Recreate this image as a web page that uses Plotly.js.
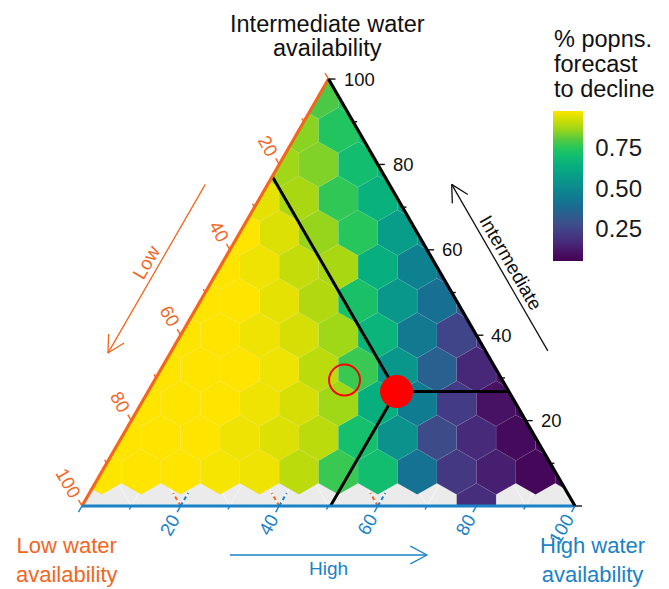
<!DOCTYPE html>
<html><head><meta charset="utf-8">
<script src="https://cdn.plot.ly/plotly-3.0.1.min.js"></script>
<style>html,body{margin:0;padding:0;background:#fff}#chart{width:669px;height:589px}</style>
</head><body><div id="chart"></div>
<script>
// ---------------- DATA ----------------
// Hexagonal bins: one list per row of constant "Intermediate" share,
// bins step 8 along "High", starting at the High value given in firstHighInRow.
const intermediateLevels = [0, 8, 16, 24, 32, 40, 48, 56, 64, 72, 80, 88, 96];
const firstHighInRow     = [80, 0, 0, 0, 0, 0, 0, 0, 0, 0, 0, 0, 0];
const highStep = 8;
// proportion of populations forecast to decline, per bin (left -> right)
const row0  = [0.18];
const row1  = [0.98, 0.98, 0.98, 0.97, 0.96, 0.90, 0.77, 0.70, 0.41, 0.21, 0.14, 0.07, 0.06];
const row2  = [0.98, 0.98, 0.98, 0.96, 0.94, 0.90, 0.71, 0.53, 0.27, 0.17, 0.08, 0.07];
const row3  = [0.98, 0.98, 0.98, 0.96, 0.93, 0.87, 0.64, 0.45, 0.22, 0.10, 0.07];
const row4  = [0.98, 0.98, 0.98, 0.96, 0.90, 0.77, 0.55, 0.35, 0.16, 0.10];
const row5  = [0.98, 0.98, 0.96, 0.93, 0.87, 0.66, 0.44, 0.25, 0.18];
const row6  = [0.98, 0.98, 0.95, 0.89, 0.72, 0.55, 0.40, 0.30];
const row7  = [0.98, 0.96, 0.91, 0.88, 0.64, 0.47, 0.38];
const row8  = [0.98, 0.94, 0.86, 0.75, 0.57, 0.50];
const row9  = [0.95, 0.88, 0.76, 0.65, 0.56];
const row10 = [0.87, 0.84, 0.70, 0.62];
const row11 = [0.85, 0.74, 0.70];
const row12 = [0.79, 0.74];
const declineRows = [row0,row1,row2,row3,row4,row5,row6,row7,row8,row9,row10,row11,row12];

// highlighted points (Low, Intermediate, High in %)
const splitPointLow = [22.8], splitPointIntermediate = [26.8], splitPointHigh = [50.4];
const openPointLow  = [32.0], openPointIntermediate  = [29.5], openPointHigh  = [38.5];

// axis ticks
const axisTickValues = [0,10,20,30,40,50,60,70,80,90,100];
const axisLabelValues = [20,40,60,80,100];
const colorbarTickValues = [0.25, 0.50, 0.75];
const colorbarTickText = ['0.25','0.50','0.75'];
const colorMin = 0.052, colorMax = 0.978;

// ---------------- STYLE / GEOMETRY ----------------
const W = 669, H = 589, OX = 82, OY = 506, SIDE = 493;
const k = SIDE / 100;                 // px per data unit
const R3 = Math.sqrt(3);
const ORANGE = '#F3661E', BLUE = '#1A82C6', BLACK = '#111111';
const FONT = 'Liberation Sans, Arial, Helvetica, sans-serif';

const declineScale = [
 [0.000,'#440154'],[0.063,'#481467'],[0.125,'#472A7A'],[0.188,'#433D86'],
 [0.251,'#3B4F8A'],[0.314,'#2A5F8F'],[0.376,'#176F92'],[0.439,'#0F7E91'],
 [0.502,'#0C8E8D'],[0.565,'#089E89'],[0.627,'#07AD80'],[0.690,'#0EBB73'],
 [0.753,'#26C65C'],[0.816,'#5BCB3C'],[0.878,'#9CD618'],[0.941,'#CFDE06'],
 [1.000,'#FDE500']];

function hex2rgb(h){return [parseInt(h.substr(1,2),16),parseInt(h.substr(3,2),16),parseInt(h.substr(5,2),16)];}
function colorFor(v){
  let t = (v - colorMin) / (colorMax - colorMin);
  t = Math.max(0, Math.min(1, t));
  for (let i = 0; i < declineScale.length - 1; i++) {
    const [t0,c0] = declineScale[i], [t1,c1] = declineScale[i+1];
    if (t <= t1) {
      const f = (t - t0) / (t1 - t0), a = hex2rgb(c0), b = hex2rgb(c1);
      return 'rgb(' + a.map((x,j)=>Math.round(x + f*(b[j]-x))).join(',') + ')';
    }
  }
  return declineScale[declineScale.length-1][1];
}
// ternary (Low, Intermediate, High) -> cartesian data coords
function tern(low, inter, high){ return [high + inter/2, inter*R3/2]; }
const TOP = tern(0,100,0), BL = tern(100,0,0), BR = tern(0,0,100);

function clipToTriangle(poly){
  const planes = [p => p[1], p => R3*p[0] - p[1], p => R3*(100 - p[0]) - p[1]];
  let out = poly;
  for (const f of planes) {
    const inp = out; out = [];
    for (let i = 0; i < inp.length; i++) {
      const a = inp[i], b = inp[(i+1) % inp.length], fa = f(a), fb = f(b);
      if (fa >= 0) out.push(a);
      if ((fa >= 0) !== (fb >= 0)) { const t = fa/(fa-fb); out.push([a[0]+t*(b[0]-a[0]), a[1]+t*(b[1]-a[1])]); }
    }
    if (!out.length) break;
  }
  return out;
}

const traces = [];
// panel background
traces.push({type:'scatter', mode:'lines', x:[BL[0],BR[0],TOP[0],BL[0]], y:[BL[1],BR[1],TOP[1],BL[1]],
  fill:'toself', fillcolor:'#EBEBEB', line:{width:0}, hoverinfo:'skip', showlegend:false});

// white grid lines
function gridTrace(vals, width){
  const x=[], y=[];
  for (const v of vals){
    const segs = [[tern(v,100-v,0), tern(v,0,100-v)], [tern(100-v,0,v), tern(0,100-v,v)], [tern(100-v,v,0), tern(0,v,100-v)]];
    for (const [a,b] of segs){ x.push(a[0],b[0],null); y.push(a[1],b[1],null); }
  }
  return {type:'scatter', mode:'lines', x, y, line:{color:'#FFFFFF', width}, hoverinfo:'skip', showlegend:false};
}
traces.push(gridTrace(axisTickValues.filter(v=>v>0&&v<100&&v%20!==0), 0.6));
traces.push(gridTrace(axisTickValues.filter(v=>v>0&&v<100&&v%20===0), 1.2));

// inner (secondary) ticks along the bottom edge
(function(){
  const L = 15/k; const xo=[],yo=[],xb=[],yb=[];
  for (const v of axisLabelValues.filter(v=>v<100)){
    const p = tern(100-v,0,v);
    xo.push(p[0], p[0]-0.5*L, null); yo.push(p[1], p[1]+R3/2*L, null);
    xb.push(p[0], p[0]+0.5*L, null); yb.push(p[1], p[1]+R3/2*L, null);
  }
  traces.push({type:'scatter',mode:'lines',x:xo,y:yo,line:{color:ORANGE,width:2,dash:'4px,3px'},hoverinfo:'skip',showlegend:false});
  traces.push({type:'scatter',mode:'lines',x:xb,y:yb,line:{color:BLUE,width:2,dash:'4px,3px'},hoverinfo:'skip',showlegend:false});
})();

// hexagon bins
const centersX=[], centersY=[], centersV=[];
const Rh = highStep / R3;
declineRows.forEach((vals, r) => {
  const inter = intermediateLevels[r];
  vals.forEach((v, i) => {
    const high = firstHighInRow[r] + i*highStep;
    const c = tern(100 - inter - high, inter, high);
    const poly = [];
    for (let a = 30; a < 390; a += 60) {
      const th = a*Math.PI/180; poly.push([c[0] + Rh*Math.cos(th), c[1] + Rh*Math.sin(th)]);
    }
    const cl = clipToTriangle(poly);
    if (cl.length < 3) return;
    cl.push(cl[0]);
    centersX.push(c[0]); centersY.push(c[1]); centersV.push(v);
    traces.push({type:'scatter', mode:'lines', x:cl.map(p=>p[0]), y:cl.map(p=>p[1]), fill:'toself',
      fillcolor: colorFor(v), line:{color:'rgba(255,255,255,0.10)', width:0.5}, hoverinfo:'skip', showlegend:false});
  });
});

// colour bar carrier
traces.push({type:'scatter', mode:'markers', x:centersX, y:centersY, hoverinfo:'skip', showlegend:false,
  marker:{size:1, opacity:0, color:centersV, cmin:colorMin, cmax:colorMax, colorscale:declineScale, showscale:true,
    colorbar:{thickness:30, thicknessmode:'pixels', len:150, lenmode:'pixels', x:553/W, xanchor:'left',
      y:1-186/H, yanchor:'middle', xpad:0, ypad:0, outlinewidth:0, tickvals:colorbarTickValues,
      ticktext:colorbarTickText, ticks:'outside', ticklen:8, tickcolor:'rgba(0,0,0,0)',
      tickfont:{family:FONT, size:24, color:'#1a1a1a'}, title:{text:''}}}});

// boundary lines from the split point
(function(){
  const lo = splitPointLow[0], it = splitPointIntermediate[0], hi = splitPointHigh[0];
  const p = tern(lo,it,hi), a = tern(0,it,100-it), b = tern(100-hi,0,hi), c = tern(lo,100-lo,0);
  traces.push({type:'scatter', mode:'lines', x:[a[0],p[0],b[0],null,p[0],c[0]], y:[a[1],p[1],b[1],null,p[1],c[1]],
    line:{color:'#000', width:3}, hoverinfo:'skip', showlegend:false});
})();

// triangle edges
traces.push({type:'scatter',mode:'lines',x:[TOP[0],BL[0]],y:[TOP[1],BL[1]],line:{color:ORANGE,width:3.2},hoverinfo:'skip',showlegend:false});
traces.push({type:'scatter',mode:'lines',x:[BL[0],BR[0]],y:[BL[1],BR[1]],line:{color:BLUE,width:3.2},hoverinfo:'skip',showlegend:false});
traces.push({type:'scatter',mode:'lines',x:[BR[0],TOP[0]],y:[BR[1],TOP[1]],line:{color:'#000',width:3.2},hoverinfo:'skip',showlegend:false});

// outer ticks + labels
const annotations = [];
function axisTicks(pointFn, dir, color, labelAngle, labelMode){
  const x=[], y=[];
  for (const v of axisTickValues){
    const p = pointFn(v), L = (v%20===0 ? 7 : 4)/k;
    x.push(p[0], p[0]+dir[0]*L, null); y.push(p[1], p[1]+dir[1]*L, null);
  }
  traces.push({type:'scatter',mode:'lines',x,y,line:{color,width:1.4},hoverinfo:'skip',showlegend:false});
  for (const v of axisLabelValues){
    const p = pointFn(v), txt = String(v);
    if (labelMode === 'side') {
      annotations.push({x:p[0]+13/k, y:p[1], xref:'x', yref:'y', text:txt, showarrow:false, xanchor:'left', yanchor:'middle',
        font:{family:FONT, size:18.5, color}});
    } else {
      const d = (11 + txt.length*0.556*18.5/2)/k;
      annotations.push({x:p[0]+dir[0]*d, y:p[1]+dir[1]*d, xref:'x', yref:'y', text:txt, showarrow:false,
        xanchor:'center', yanchor:'middle', textangle:labelAngle, font:{family:FONT, size:18.5, color}});
    }
  }
}
axisTicks(v => tern(v,100-v,0), [-0.5, R3/2], ORANGE, 60, 'along');
axisTicks(v => tern(100-v,0,v), [-0.5, -R3/2], BLUE, -60, 'along');
axisTicks(v => tern(0,v,100-v), [1, 0], BLACK, 0, 'side');

// direction arrows beside the edges
function edgePoint(P0, P1, f, offPx, n){ return [P0[0]+f*(P1[0]-P0[0]) + n[0]*offPx/k, P0[1]+f*(P1[1]-P0[1]) + n[1]*offPx/k]; }
function arrow(s, e, color){
  const dx=e[0]-s[0], dy=e[1]-s[1], len=Math.hypot(dx,dy), ux=dx/len, uy=dy/len, L=19/k, th=28*Math.PI/180;
  const b1=[e[0]-L*(ux*Math.cos(th)-uy*Math.sin(th)), e[1]-L*(ux*Math.sin(th)+uy*Math.cos(th))];
  const b2=[e[0]-L*(ux*Math.cos(-th)-uy*Math.sin(-th)), e[1]-L*(ux*Math.sin(-th)+uy*Math.cos(-th))];
  traces.push({type:'scatter',mode:'lines',x:[s[0],e[0],null,b1[0],e[0],b2[0]],y:[s[1],e[1],null,b1[1],e[1],b2[1]],
    line:{color,width:1.3},hoverinfo:'skip',showlegend:false});
}
const nL=[-R3/2,0.5], nR=[R3/2,0.5], nB=[0,-1];
arrow(edgePoint(TOP,BL,0.31,54,nL), edgePoint(TOP,BL,0.705,54,nL), ORANGE);
arrow(edgePoint(BR,TOP,0.30,54,nR), edgePoint(BR,TOP,0.69,54,nR), BLACK);
arrow(edgePoint(BL,BR,0.30,49,nB), edgePoint(BL,BR,0.70,49,nB), BLUE);
(function(){
  const a = edgePoint(TOP,BL,0.507,66,nL), b = edgePoint(BR,TOP,0.493,66,nR), c = edgePoint(BL,BR,0.50,62,nB);
  annotations.push({x:a[0],y:a[1],xref:'x',yref:'y',text:'Low',showarrow:false,textangle:-60,font:{family:FONT,size:19,color:ORANGE}});
  annotations.push({x:b[0],y:b[1],xref:'x',yref:'y',text:'Intermediate',showarrow:false,textangle:60,font:{family:FONT,size:19,color:BLACK}});
  annotations.push({x:c[0],y:c[1],xref:'x',yref:'y',text:'High',showarrow:false,font:{family:FONT,size:19,color:BLUE}});
})();

// highlighted points
(function(){
  const p = tern(splitPointLow[0], splitPointIntermediate[0], splitPointHigh[0]);
  const q = tern(openPointLow[0], openPointIntermediate[0], openPointHigh[0]);
  traces.push({type:'scatter',mode:'markers',x:[q[0]],y:[q[1]],marker:{symbol:'circle-open',size:31,color:'#FF0000',line:{color:'#FF0000',width:2}},hoverinfo:'skip',showlegend:false});
  traces.push({type:'scatter',mode:'markers',x:[p[0]],y:[p[1]],marker:{symbol:'circle',size:33,color:'#FF0000',line:{width:0}},hoverinfo:'skip',showlegend:false});
})();

// titles (paper coords in px)
function ptext(txt, px, py, size, color, anchor){
  annotations.push({x:px/W, y:1-py/H, xref:'paper', yref:'paper', text:txt, showarrow:false,
    xanchor:anchor||'center', yanchor:'middle', font:{family:FONT, size, color}});
}
ptext('Intermediate water', 327, 24, 23.5, BLACK);
ptext('availability', 327, 48, 23.5, BLACK);
ptext('% popns.', 552, 39, 23.5, BLACK, 'left');
ptext('forecast', 552, 64, 23.5, BLACK, 'left');
ptext('to decline', 552, 89, 23.5, BLACK, 'left');
// corner titles: two-line blocks resting on the bottom of the figure
annotations.push({x:67/W, y:0, xref:'paper', yref:'paper', yanchor:'bottom', xanchor:'center', showarrow:false,
  text:'Low water<br>availability', font:{family:FONT, size:22, color:ORANGE}});
annotations.push({x:592/W, y:0, xref:'paper', yref:'paper', yanchor:'bottom', xanchor:'center', showarrow:false,
  text:'High water<br>availability', font:{family:FONT, size:22, color:BLUE}});

// white ticks inside the colour bar
const shapes = [];
for (const v of colorbarTickValues){
  const py = 261 - (v - colorMin)/(colorMax - colorMin)*150;
  shapes.push({type:'line', xref:'paper', yref:'paper', x0:553/W, x1:559/W, y0:1-py/H, y1:1-py/H, line:{color:'#fff', width:1.2}});
  shapes.push({type:'line', xref:'paper', yref:'paper', x0:577/W, x1:583/W, y0:1-py/H, y1:1-py/H, line:{color:'#fff', width:1.2}});
}

const layout = {
  width: W, height: H, margin:{l:0,r:0,t:0,b:0},
  paper_bgcolor:'#fff', plot_bgcolor:'#fff', showlegend:false,
  xaxis:{range:[-OX/k, (W-OX)/k], visible:false, fixedrange:true},
  yaxis:{range:[-(H-OY)/k, OY/k], visible:false, fixedrange:true},
  annotations, shapes, font:{family:FONT}
};
Plotly.newPlot('chart', traces, layout, {displayModeBar:false, staticPlot:true});
</script></body></html>
